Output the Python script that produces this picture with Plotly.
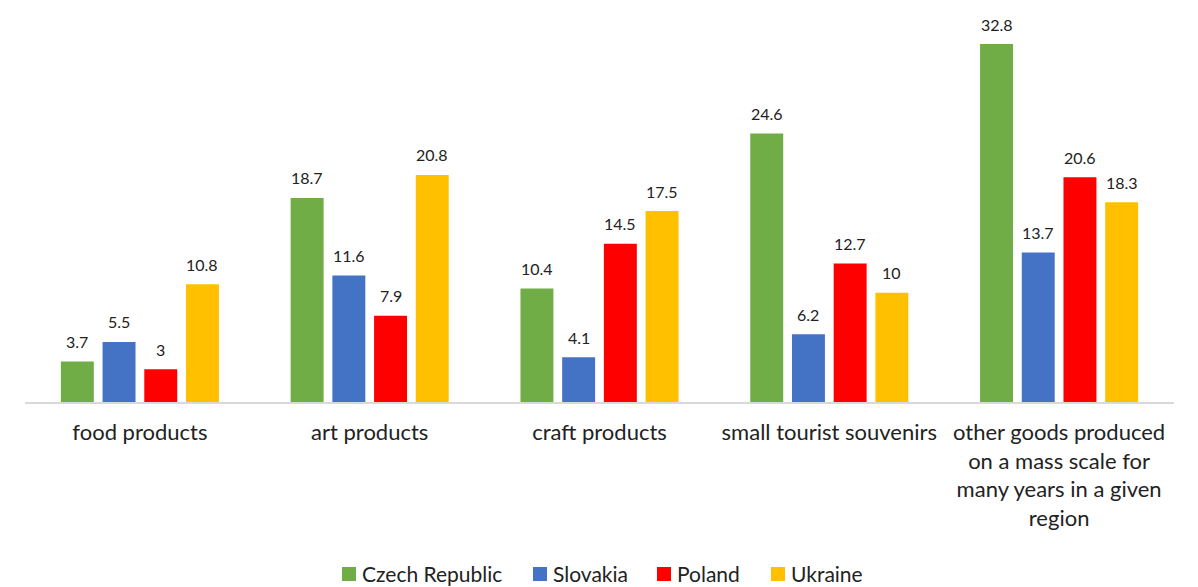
import plotly.graph_objects as go

categories = [
    "food products",
    "art products",
    "craft products",
    "small tourist souvenirs",
    "other goods produced<br>on a mass scale for<br>many years in a given<br>region",
]
countries = ["Czech Republic", "Slovakia", "Poland", "Ukraine"]
czech = [3.7, 18.7, 10.4, 24.6, 32.8]
slovakia = [5.5, 11.6, 4.1, 6.2, 13.7]
poland = [3, 7.9, 14.5, 12.7, 20.6]
ukraine = [10.8, 20.8, 17.5, 10, 18.3]
colors = ["#70AD47", "#4472C4", "#FF0000", "#FFC000"]

series = [czech, slovakia, poland, ukraine]

W, H = 1198, 587
margin = dict(l=25, r=24, t=20, b=185)
bargap = 0.274
bargroupgap = 0.21
FONT = "Lato"
TEXT = "#222222"

fig = go.Figure()
for name, vals, col in zip(countries, series, colors):
    fig.add_trace(go.Bar(
        name=name, x=categories, y=vals, marker_color=col,
        marker_line_width=0, showlegend=False,
    ))

plot_w = W - margin["l"] - margin["r"]
plot_h = H - margin["t"] - margin["b"]

# value labels above each bar, offset within the group
cat_w = plot_w / len(categories)
slot = cat_w * (1 - bargap) / len(countries)
for i, vals in enumerate(series):
    dx = (i - (len(countries) - 1) / 2) * slot
    for cat, v in zip(categories, vals):
        fig.add_annotation(
            x=cat, y=v, xref="x", yref="y", text=f"{v:g}", showarrow=False,
            xshift=dx, yshift=20, yanchor="middle",
            font=dict(size=16, color=TEXT, family=FONT),
        )


# legend drawn below the chart: coloured square + country name
def px_to_paper_x(px):
    return (px - margin["l"]) / plot_w


def px_to_paper_y(py):
    return (H - margin["b"] - py) / plot_h


legend_x = [342, 533, 657, 771]
sq = 14
for name, col, lx in zip(countries, colors, legend_x):
    fig.add_shape(
        type="rect", xref="paper", yref="paper",
        x0=px_to_paper_x(lx), x1=px_to_paper_x(lx + sq),
        y0=px_to_paper_y(567), y1=px_to_paper_y(567 + sq),
        fillcolor=col, line_width=0,
    )
    fig.add_annotation(
        x=px_to_paper_x(lx + sq + 4), y=px_to_paper_y(573),
        xref="paper", yref="paper", text=name, showarrow=False,
        xanchor="left", yanchor="middle",
        font=dict(size=21, color=TEXT, family=FONT),
    )

fig.update_layout(
    width=W, height=H, margin=margin,
    barmode="group", bargap=bargap, bargroupgap=bargroupgap,
    plot_bgcolor="white", paper_bgcolor="white",
    font=dict(family=FONT, color=TEXT),
    showlegend=False,
    xaxis=dict(
        showline=True, linecolor="#D9D9D9", linewidth=1.5, ticks="",
        tickfont=dict(size=22, color=TEXT), showgrid=False,
        ticklabelstandoff=10,
    ),
    yaxis=dict(range=[0, 35], visible=False, showgrid=False),
)

fig.write_html("out.html")
